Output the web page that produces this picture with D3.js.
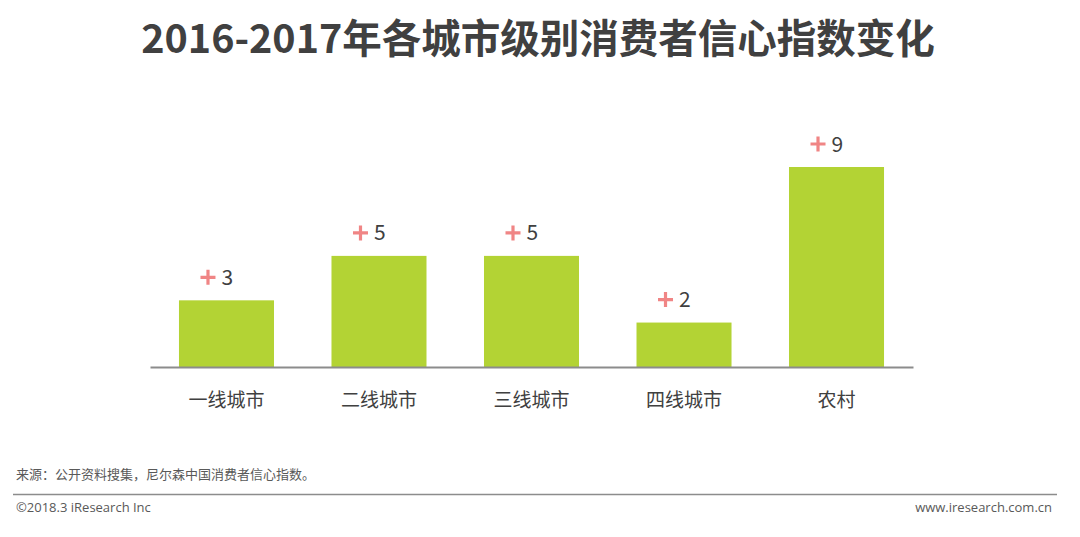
<!DOCTYPE html>
<html>
<head>
<meta charset="utf-8">
<script src="https://cdn.jsdelivr.net/npm/d3@7"></script>
<style>
  body { margin: 0; background: #fff; }
  svg text { font-family: "Noto Sans CJK SC", "Noto Sans", sans-serif; }
</style>
</head>
<body>
<svg id="chart" width="1080" height="537"></svg>
<script>
// chart data
var categories = ['一线城市', '二线城市', '三线城市', '四线城市', '农村'];
var changes = [3, 5, 5, 2, 9];

var svg = d3.select('#chart');

// title
svg.append('text')
  .attr('x', 538).attr('y', 53)
  .attr('text-anchor', 'middle')
  .attr('font-size', 39.5).attr('font-weight', 'bold')
  .attr('fill', '#404040')
  .text('2016-2017年各城市级别消费者信心指数变化');

var baseY = 367;

var x = d3.scaleBand()
  .domain(categories)
  .range([150, 913])
  .paddingInner(0.377)
  .paddingOuter(0.19);

var y = d3.scaleLinear()
  .domain([0, 9])
  .range([baseY, 167]);

// bars
svg.selectAll('rect.bar')
  .data(changes)
  .enter().append('rect')
  .attr('class', 'bar')
  .attr('x', function(d, i) { return x(categories[i]); })
  .attr('y', function(d) { return y(d); })
  .attr('width', x.bandwidth())
  .attr('height', function(d) { return baseY - y(d); })
  .attr('fill', '#b3d334');

// baseline axis
var axis = svg.append('g')
  .attr('transform', 'translate(0,' + baseY + ')')
  .call(d3.axisBottom(x).tickSize(0).tickPadding(27));
axis.select('.domain').attr('stroke', '#8c8c8c').attr('stroke-width', 2);
axis.selectAll('text')
  .attr('font-size', 19)
  .attr('fill', '#404040')
  .style('font-family', '"Noto Sans CJK SC", sans-serif');

// value labels: pink plus + number
var labels = svg.selectAll('g.lbl')
  .data(changes)
  .enter().append('g')
  .attr('class', 'lbl')
  .attr('transform', function(d, i) {
    return 'translate(' + (x(categories[i]) + x.bandwidth() / 2) + ',' + (y(d) - 23) + ')';
  });

labels.append('path')
  .attr('d', 'M-26,0 H-11 M-18.5,-7.5 V7.5')
  .attr('stroke', '#f08585')
  .attr('stroke-width', 3.2)
  .attr('fill', 'none');

labels.append('text')
  .attr('x', -5).attr('y', 7.5)
  .attr('font-size', 21)
  .attr('fill', '#404040')
  .text(function(d) { return d; });

// footer
svg.append('text')
  .attr('x', 16).attr('y', 479)
  .attr('font-size', 13).attr('fill', '#595959')
  .text('来源：公开资料搜集，尼尔森中国消费者信心指数。');

svg.append('line')
  .attr('x1', 13).attr('x2', 1057)
  .attr('y1', 494.5).attr('y2', 494.5)
  .attr('stroke', '#8c8c8c').attr('stroke-width', 1.5);

svg.append('text')
  .attr('x', 16).attr('y', 512)
  .attr('font-size', 13).attr('fill', '#595959')
  .style('font-family', '"Open Sans", "Noto Sans", sans-serif')
  .text('©2018.3 iResearch Inc');

svg.append('text')
  .attr('x', 1052).attr('y', 512)
  .attr('text-anchor', 'end')
  .attr('font-size', 13).attr('fill', '#595959')
  .style('font-family', '"Open Sans", "Noto Sans", sans-serif')
  .text('www.iresearch.com.cn');
</script>
</body>
</html>
